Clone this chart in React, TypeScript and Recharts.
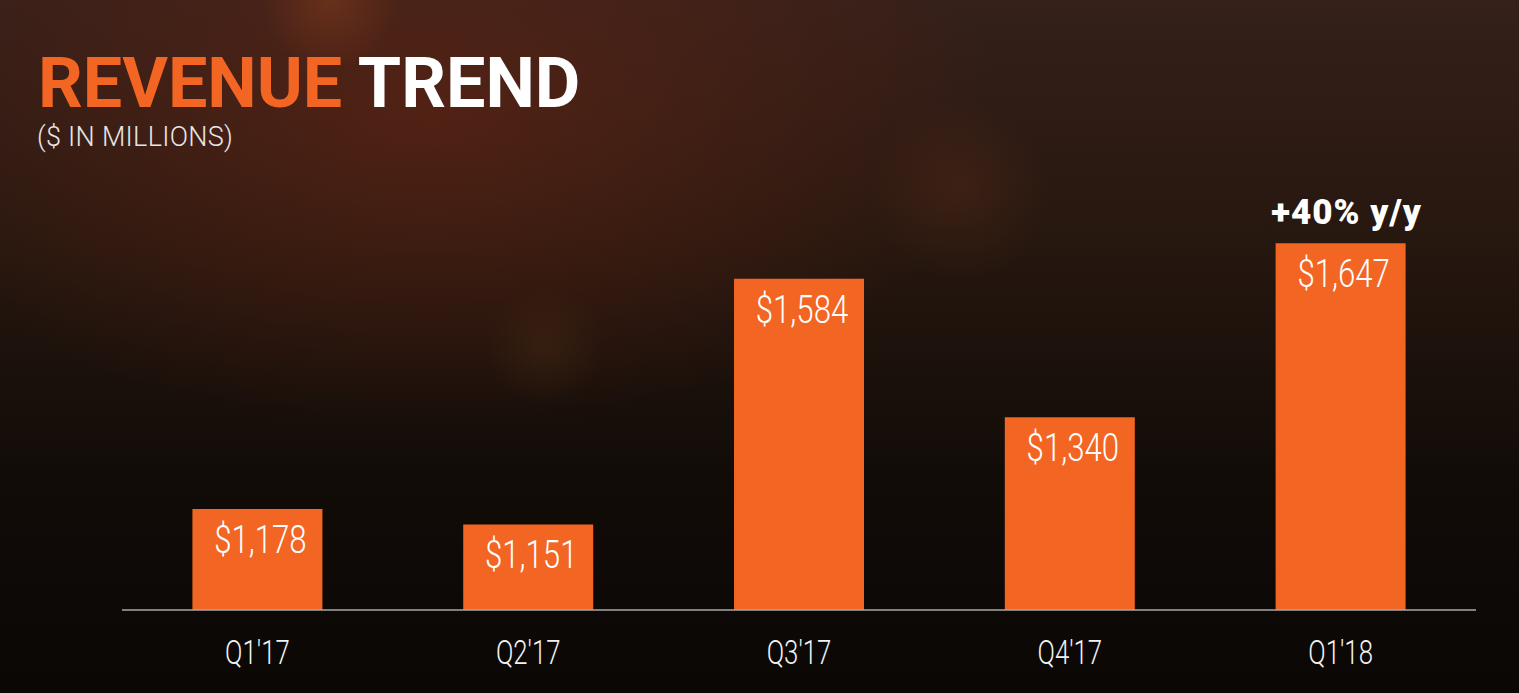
import React from "react"
import { Bar, BarChart, LabelList, XAxis, YAxis } from "recharts"

const quarters = ["Q1'17", "Q2'17", "Q3'17", "Q4'17", "Q1'18"]
const revenue = [1178, 1151, 1584, 1340, 1647]
const notes = ["", "", "", "", "+40% y/y"]

const data = quarters.map((quarter, i) => ({
  quarter,
  revenue: revenue[i],
  note: notes[i],
}))

const ORANGE = "#f26522"
const FONT = "Roboto, 'Noto Sans', sans-serif"

const fmt = (v: number) => "$" + v.toLocaleString("en-US")

const ValueLabel = (props: any) => {
  const { x, y, width, value } = props
  const cx = Number(x) + Number(width) / 2 + 3
  return (
    <text
      transform={`translate(${cx},${Number(y) + 44}) scale(0.8,1)`}
      textAnchor="middle"
      fill="#ffffff"
      fontFamily={FONT}
      fontWeight={300}
      fontSize={39}
    >
      {fmt(Number(value))}
    </text>
  )
}

const NoteLabel = (props: any) => {
  const { x, y, width, value } = props
  if (!value) return null
  const cx = Number(x) + Number(width) / 2 + 6
  return (
    <text
      x={cx}
      y={Number(y) - 19}
      textAnchor="middle"
      fill="#ffffff"
      fontFamily={FONT}
      fontWeight={900}
      fontSize={35}
      letterSpacing={1}
    >
      {value}
    </text>
  )
}

const QuarterTick = (props: any) => {
  const { x, y, payload } = props
  return (
    <text
      transform={`translate(${x},${Number(y) + 54}) scale(0.78,1)`}
      textAnchor="middle"
      fill="#f2f2f2"
      fontFamily={FONT}
      fontWeight={300}
      fontSize={33}
    >
      {payload.value}
    </text>
  )
}

export default function App() {
  return (
    <div
      style={{
        position: "absolute",
        left: 0,
        top: 0,
        width: 1519,
        height: 693,
        overflow: "hidden",
        background: [
          "radial-gradient(circle at 330px 0px, rgba(130,60,28,0.55) 0px, rgba(130,60,28,0) 70px)",
          "radial-gradient(circle at 960px 190px, rgba(95,45,25,0.35) 0px, rgba(95,45,25,0) 90px)",
          "radial-gradient(circle at 545px 345px, rgba(80,50,22,0.35) 0px, rgba(80,50,22,0) 60px)",
          "radial-gradient(ellipse 760px 430px at 430px 110px, rgba(105,38,20,0.6), rgba(105,38,20,0) 75%)",
          "linear-gradient(180deg, #35201a 0%, #26170f 35%, #120c08 68%, #0a0705 100%)",
        ].join(", "),
      }}
    >
      <div
        style={{
          position: "absolute",
          left: 38,
          top: 48,
          fontFamily: FONT,
          fontWeight: 700,
          fontSize: 70,
          lineHeight: "70px",
          whiteSpace: "nowrap",
        }}
      >
        <span style={{ color: ORANGE }}>REVENUE</span>
        <span style={{ color: "#ffffff" }}> TREND</span>
      </div>
      <div
        style={{
          position: "absolute",
          left: 37,
          top: 124,
          fontFamily: FONT,
          fontWeight: 300,
          fontSize: 27,
          lineHeight: "27px",
          letterSpacing: 0.3,
          color: "#e6e6e6",
          whiteSpace: "nowrap",
        }}
      >
        ($ IN MILLIONS)
      </div>
      <div style={{ position: "absolute", left: 0, top: 0 }}>
        <BarChart
          width={1519}
          height={693}
          data={data}
          margin={{ top: 43, right: 43, left: 122, bottom: 0 }}
          barCategoryGap="26%"
        >
          <XAxis
            dataKey="quarter"
            height={83}
            tickLine={false}
            tickSize={0}
            tickMargin={0}
            axisLine={{ stroke: "#a9a9a9", strokeWidth: 1.5 }}
            tick={<QuarterTick />}
            interval={0}
          />
          <YAxis hide domain={[1000, 2000]} />
          <Bar dataKey="revenue" fill={ORANGE} isAnimationActive={false}>
            <LabelList dataKey="revenue" content={<ValueLabel />} />
            <LabelList dataKey="note" content={<NoteLabel />} />
          </Bar>
        </BarChart>
      </div>
    </div>
  )
}
